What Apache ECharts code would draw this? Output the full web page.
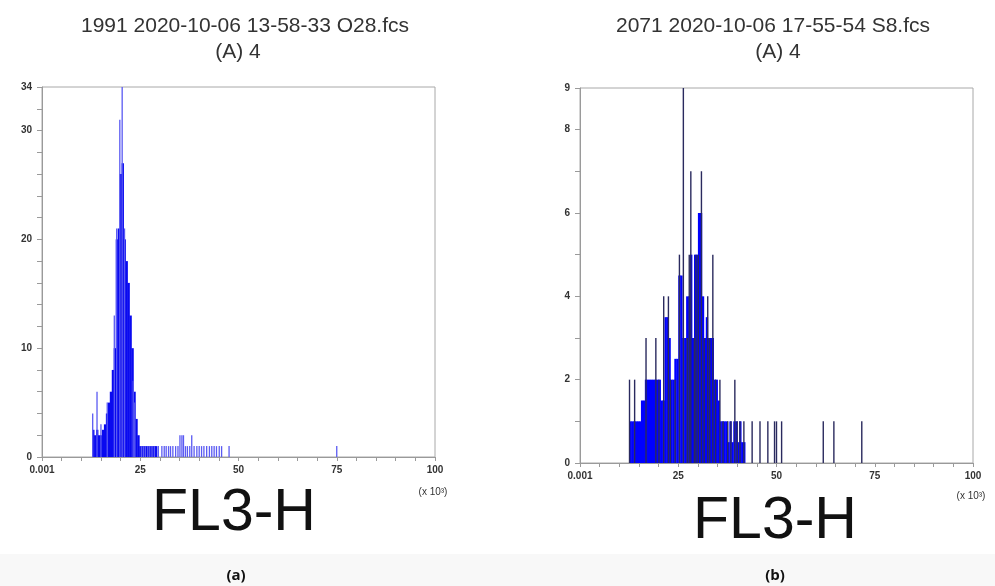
<!DOCTYPE html>
<html><head><meta charset="utf-8">
<script src="https://cdn.jsdelivr.net/npm/echarts@6/dist/echarts.min.js"></script>
<style>html,body{margin:0;padding:0;background:#fff}#c{width:995px;height:586px}</style>
</head><body><div id="c"></div>
<script>
// ---- data (x in units of 10^3) ----
const xTickLabels = ['0.001', '25', '50', '75', '100'];
const leftYLabels = [0, 10, 20, 30, 34];
const rightYLabels = [0, 2, 4, 6, 8, 9];
const binWidth = 0.5;

const leftBodyStart = 12.75;
const leftBodyCounts = [2.5, 2, 2.5, 2, 2, 2.5, 3, 4, 5, 6, 8, 10, 20, 21, 26, 27, 20, 18, 16, 13, 10, 6, 3.5, 2, 1, 1, 1, 1, 1, 1, 1, 1, 1];
const leftSpikeX = [12.9, 14.0, 15.0, 16.6, 18.4, 19.0, 19.8, 20.4, 21.0, 23.2, 23.6,
  25.3, 25.8, 26.3, 26.9, 27.4, 28.0, 28.6, 29.6, 30.5, 31.1, 31.6, 32.2, 32.7, 33.3, 34.0, 34.6,
  35.1, 35.6, 36.0, 36.5, 37.0, 37.6, 38.1, 38.7, 39.4, 40.0, 40.6, 41.2, 41.9, 42.6, 43.2, 43.8,
  44.4, 45.1, 45.7, 47.6, 75.0];
const leftSpikeCounts = [4, 6, 3, 5, 13, 21, 31, 34, 21, 7, 5,
  1, 1, 1, 1, 1, 1, 1, 1, 1, 1, 1, 1, 1, 1, 1, 1,
  2, 2, 2, 1, 1, 1, 2, 1, 1, 1, 1, 1, 1, 1, 1, 1,
  1, 1, 1, 1, 1];

const rightBodyStart = 12.5;
const rightBodyCounts = [1, 1, 1, 1, 1, 1, 1.5, 1.5, 2, 2, 2, 2, 2, 2, 2, 2, 1.5, 1.5, 3.5, 3.5, 3, 2, 2, 2.5, 2.5,
  4.5, 4.5, 3, 3, 4, 4, 5, 3, 5, 5, 6, 6, 4, 3, 3.5, 3, 3, 3, 2, 2, 1.5, 1, 1, 1, 1, 0.5, 1, 0.5, 1, 1, 0.5, 1, 0.5, 0.5];
const rightSpikeX = [12.6, 13.9, 16.8, 19.3, 20.1, 21.3, 22.5, 23.0, 24.2, 25.3, 26.3, 27.3, 27.8, 28.2, 29.1, 29.5,
  30.1, 30.9, 31.6, 32.5, 33.0, 33.8, 34.5, 35.6, 36.4, 37.6, 38.4, 39.4, 40.0, 40.7, 41.7, 43.8, 45.8,
  47.8, 49.5, 50.0, 51.3, 61.9, 64.6, 71.7];
const rightSpikeCounts = [2, 2, 3, 3, 2, 4, 4, 2, 2, 5, 9, 3, 5, 7, 3, 5,
  5, 7, 3, 4, 3, 5, 2, 2, 1, 1, 1, 2, 1, 1, 1, 1, 1,
  1, 1, 1, 1, 1, 1, 1];

// ---- build ----
function bodyData(start, counts) { return counts.map((c, i) => [start + i * binWidth, c]); }
function spikeData(xs, cs) { return xs.map((x, i) => [x, cs[i]]); }

function bodyRender(color) {
  return function (params, api) {
    const x = api.value(0), v = api.value(1);
    const p0 = api.coord([x, v]);
    const p1 = api.coord([x + binWidth, 0]);
    return { type: 'rect', shape: { x: p0[0], y: p0[1], width: p1[0] - p0[0] + 0.4, height: p1[1] - p0[1] }, style: { fill: color } };
  };
}
function spikeRender(color, w) {
  return function (params, api) {
    const x = api.value(0), v = api.value(1);
    const p0 = api.coord([x, v]);
    const p1 = api.coord([x, 0]);
    return { type: 'rect', shape: { x: p0[0] - w / 2, y: p0[1], width: w, height: p1[1] - p0[1] }, style: { fill: color } };
  };
}

const font = 'Liberation Sans, Arial, sans-serif';
function xAxis(gi) {
  return {
    type: 'value', gridIndex: gi, min: 0, max: 100, interval: 5,
    axisLine: { lineStyle: { color: '#9a9a9a' } },
    axisTick: { length: 4, lineStyle: { color: '#9a9a9a' } },
    splitLine: { show: false },
    axisLabel: { margin: 8, fontSize: 10, fontWeight: 'bold', color: '#333', fontFamily: font,
      formatter: v => (v % 25 === 0 ? xTickLabels[v / 25] : '') }
  };
}
function yAxis(gi, max, interval, labels) {
  return {
    type: 'value', gridIndex: gi, min: 0, max: max, interval: interval,
    axisLine: { show: true, lineStyle: { color: '#9a9a9a' } },
    axisTick: { show: true, length: 5, lineStyle: { color: '#9a9a9a' } },
    splitLine: { show: false },
    axisLabel: { margin: 10, fontSize: 10, fontWeight: 'bold', color: '#333', fontFamily: font,
      formatter: v => (labels.indexOf(v) >= 0 ? String(v) : '') }
  };
}

const chart = echarts.init(document.getElementById('c'), null, { renderer: 'canvas' });
chart.setOption({
  animation: false,
  backgroundColor: '#fff',
  grid: [
    { left: 42, top: 87, width: 393, height: 370, show: true, borderColor: '#a8a8a8', borderWidth: 1 },
    { left: 580, top: 88, width: 393, height: 375, show: true, borderColor: '#a8a8a8', borderWidth: 1 }
  ],
  xAxis: [xAxis(0), xAxis(1)],
  yAxis: [yAxis(0, 34, 2, leftYLabels), yAxis(1, 9, 1, rightYLabels)],
  series: [
    { type: 'custom', xAxisIndex: 0, yAxisIndex: 0, renderItem: bodyRender('#0a0af0'), data: bodyData(leftBodyStart, leftBodyCounts), clip: true },
    { type: 'custom', xAxisIndex: 0, yAxisIndex: 0, renderItem: spikeRender('#5a5af2', 1.3), data: spikeData(leftSpikeX, leftSpikeCounts), clip: true },
    { type: 'custom', xAxisIndex: 1, yAxisIndex: 1, renderItem: bodyRender('#0000ff'), data: bodyData(rightBodyStart, rightBodyCounts), clip: true },
    { type: 'custom', xAxisIndex: 1, yAxisIndex: 1, renderItem: spikeRender('#2a2a5e', 1.4), data: spikeData(rightSpikeX, rightSpikeCounts), clip: true }
  ],
  graphic: [
    { type: 'rect', shape: { x: 0, y: 554, width: 995, height: 32 }, style: { fill: '#f8f8f8' }, z: -10 },
    { type: 'text', x: 245, y: 26, style: { text: '1991 2020-10-06 13-58-33 O28.fcs', font: '21px ' + font, fill: '#333', textAlign: 'center', textVerticalAlign: 'middle' } },
    { type: 'text', x: 238, y: 52, style: { text: '(A) 4', font: '21px ' + font, fill: '#333', textAlign: 'center', textVerticalAlign: 'middle' } },
    { type: 'text', x: 773, y: 26, style: { text: '2071 2020-10-06 17-55-54 S8.fcs', font: '21px ' + font, fill: '#333', textAlign: 'center', textVerticalAlign: 'middle' } },
    { type: 'text', x: 778, y: 52, style: { text: '(A) 4', font: '21px ' + font, fill: '#333', textAlign: 'center', textVerticalAlign: 'middle' } },
    { type: 'text', x: 234, y: 514, style: { text: 'FL3-H', font: '59px ' + font, fill: '#111', textAlign: 'center', textVerticalAlign: 'middle' } },
    { type: 'text', x: 775, y: 522, style: { text: 'FL3-H', font: '59px ' + font, fill: '#111', textAlign: 'center', textVerticalAlign: 'middle' } },
    { type: 'text', x: 433, y: 492, style: { text: '(x 10³)', font: '10px ' + font, fill: '#333', textAlign: 'center', textVerticalAlign: 'middle' } },
    { type: 'text', x: 971, y: 496, style: { text: '(x 10³)', font: '10px ' + font, fill: '#333', textAlign: 'center', textVerticalAlign: 'middle' } },
    { type: 'text', x: 236, y: 576, style: { text: '(a)', font: 'bold 15px Open Sans, ' + font, fill: '#111', textAlign: 'center', textVerticalAlign: 'middle' } },
    { type: 'text', x: 775, y: 576, style: { text: '(b)', font: 'bold 15px Open Sans, ' + font, fill: '#111', textAlign: 'center', textVerticalAlign: 'middle' } }
  ]
});
</script></body></html>
